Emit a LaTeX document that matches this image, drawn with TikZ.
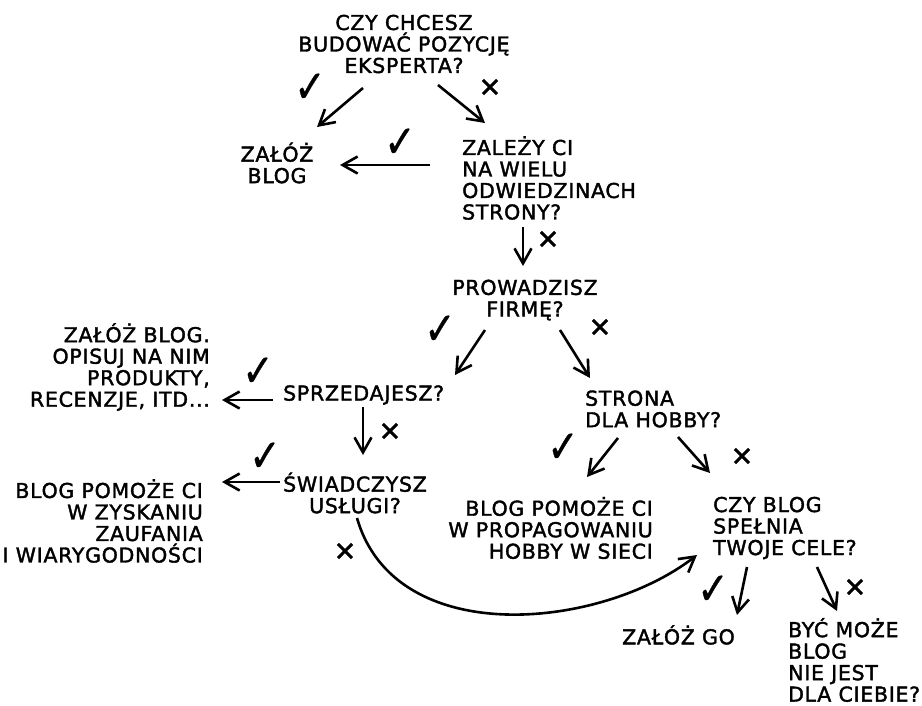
\documentclass[tikz,border=0pt]{standalone}
\usepackage{fontspec}
\setmainfont{DejaVu Sans}[LetterSpace=3.5, FakeBold=1.8]
\newfontfamily\symfont{DejaVu Sans}[FakeBold=0.8]
\usetikzlibrary{arrows.meta}
\tikzset{
  txt/.style={inner sep=0pt, font=\fontsize{20.5}{21.5}\selectfont},
  arr/.style={line width=2.6pt, -{Straight Barb[length=15pt,width=17pt,line width=2.6pt]}},
  yes/.style={inner sep=0pt, font=\symfont\fontsize{26}{30}\selectfont},
  no/.style={inner sep=0pt, font=\symfont\fontsize{27}{30}\selectfont}
}
\newcommand{\chk}{\scalebox{1.45}[1.75]{✓}}
\begin{document}
\begin{tikzpicture}[x=1pt,y=-1pt]
\useasboundingbox (0,0) rectangle (922,705);
% nodes
\node[txt, align=center] (q1) at (404,44) {CZY CHCESZ\\BUDOWAĆ POZYCJĘ\\EKSPERTA?};
\node[txt, align=center] (zb1) at (277,163) {ZAŁÓŻ\\BLOG};
\node[txt, align=left, anchor=west] (q2) at (462,178) {ZALEŻY CI\\NA WIELU\\ODWIEDZINACH\\STRONY?};
\node[txt, align=center] (q3) at (525,300) {PROWADZISZ\\FIRMĘ?};
\node[txt, align=right, anchor=east] (r1) at (210,367) {ZAŁÓŻ BLOG.\\OPISUJ NA NIM\\PRODUKTY,\\RECENZJE, ITD...};
\node[txt, anchor=west] (q4) at (283,395) {SPRZEDAJESZ?};
\node[txt, align=center] (q5) at (355,493) {ŚWIADCZYSZ\\USŁUGI?};
\node[txt, align=right, anchor=east] (r2) at (203,521) {BLOG POMOŻE CI\\W ZYSKANIU\\ZAUFANIA\\I WIARYGODNOŚCI};
\node[txt, align=left, anchor=west] (q6) at (585,409) {STRONA\\DLA HOBBY?};
\node[txt, align=right, anchor=east] (r3) at (653,528) {BLOG POMOŻE CI\\W PROPAGOWANIU\\HOBBY W SIECI};
\node[txt, align=left, anchor=west] (q7) at (713,528) {CZY BLOG\\SPEŁNIA\\TWOJE CELE?};
\node[txt, anchor=west] (r4) at (622,635) {ZAŁÓŻ GO};
\node[txt, align=left, anchor=west] (r5) at (788,660) {BYĆ MOŻE\\BLOG\\NIE JEST\\DLA CIEBIE?};
% connectors
\draw[arr] ([shift={(-41,44)}]q1.center) -- ([shift={(40,-36)}]zb1.center);
\draw[arr] ([shift={(34,41)}]q1.center) -- ([shift={(23,-55)}]q2.west);
\draw[arr] ([shift={(-32,-13)}]q2.west) -- ([shift={(63,2)}]zb1.center);
\draw[arr] ([shift={(61,49)}]q2.west) -- ([shift={(-2,-34)}]q3.center);
\draw[arr] ([shift={(-40,30)}]q3.center) -- ([shift={(172,-20)}]q4.west);
\draw[arr] ([shift={(35,30)}]q3.center) -- ([shift={(5,-31)}]q6.west);
\draw[arr] ([shift={(-10,5)}]q4.west) -- ([shift={(12,33)}]r1.east);
\draw[arr] ([shift={(80,12)}]q4.west) -- ([shift={(8,-38)}]q5.center);
\draw[arr] ([shift={(-75,-11)}]q5.center) -- ([shift={(19,-39)}]r2.east);
\draw[arr] ([shift={(2,25)}]q5.center) .. controls (395,650) and (600,630) .. ([shift={(-16,27)}]q7.west);
\draw[arr] ([shift={(33,29)}]q6.west) -- ([shift={(-66,-51)}]r3.east);
\draw[arr] ([shift={(93,28)}]q6.west) -- ([shift={(-3,-55)}]q7.west);
\draw[arr] ([shift={(34,39)}]q7.west) -- ([shift={(115,-20)}]r4.west);
\draw[arr] ([shift={(104,39)}]q7.west) -- ([shift={(49,-49)}]r5.west);
% marks
\node[yes] (y1) at (310,88) {\chk};
\node[no] (n1) at (490,88) {✕};
\node[yes] (y2) at (400,143) {\chk};
\node[no] (n2) at (548,240) {✕};
\node[yes] (y3) at (440,330) {\chk};
\node[no] (n3) at (600,328) {✕};
\node[yes] (y4) at (258,372) {\chk};
\node[no] (n4) at (390,432) {✕};
\node[yes] (y5) at (265,457) {\chk};
\node[no] (n5) at (345,552) {✕};
\node[yes] (y6) at (563,448) {\chk};
\node[no] (n6) at (742,457) {✕};
\node[yes] (y7) at (713,590) {\chk};
\node[no] (n7) at (855,588) {✕};
\end{tikzpicture}
\end{document}
